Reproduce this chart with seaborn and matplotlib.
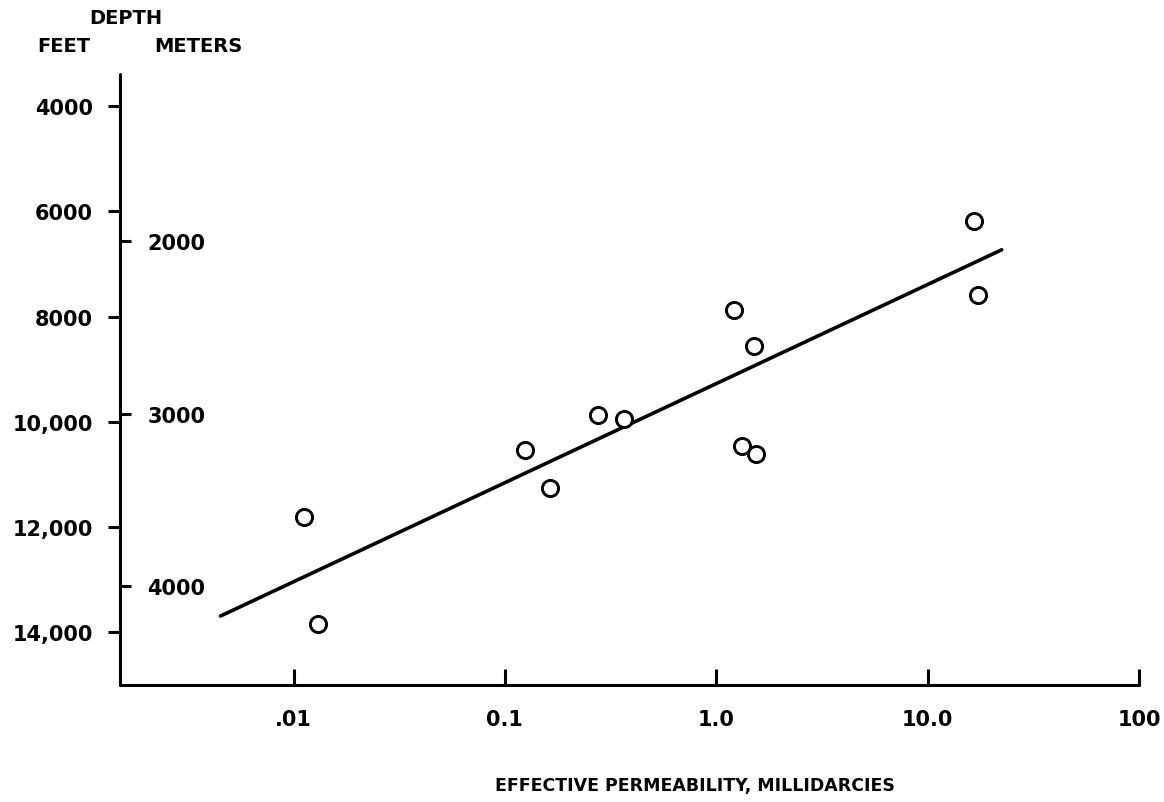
import numpy as np
import pandas as pd
import matplotlib
matplotlib.use("Agg")
import matplotlib.pyplot as plt
import seaborn as sns

# ---- data ----
permeability_md = [0.0112, 0.0131, 0.125, 0.163, 0.275, 0.365, 1.21, 1.51, 1.33, 1.55, 16.6, 17.4]
depth_ft = [11800, 13835, 10534, 11249, 9875, 9951, 7878, 8568, 10458, 10616, 6192, 7593]
fit_permeability_md = [0.00451, 22.4]
fit_depth_ft = [13690, 6732]

x_ticks = [0.01, 0.1, 1, 10, 100]
x_tick_labels = [".01", "0.1", "1.0", "10.0", "100"]
feet_ticks = [4000, 6000, 8000, 10000, 12000, 14000]
feet_tick_labels = ["4000", "6000", "8000", "10,000", "12,000", "14,000"]
meter_ticks = [2000, 3000, 4000]
meter_tick_labels = ["2000", "3000", "4000"]

FT_TO_M = 0.3048

sns.set_style("white")
plt.rcParams["font.family"] = ["DejaVu Sans"]
plt.rcParams["font.weight"] = "bold"
plt.rcParams["text.color"] = "black"
plt.rcParams["axes.labelcolor"] = "black"

W, H = 1164, 803
fig = plt.figure(figsize=(W / 100, H / 100), dpi=100)
ax = fig.add_axes([120 / W, 1 - 686 / H, (1139 - 120) / W, (686 - 75) / H])

points = pd.DataFrame({"k": permeability_md, "depth": depth_ft})
fit = pd.DataFrame({"k": fit_permeability_md, "depth": fit_depth_ft})

sns.lineplot(data=fit, x="k", y="depth", ax=ax, color="black", linewidth=2.6,
             estimator=None, sort=False)
sns.scatterplot(data=points, x="k", y="depth", ax=ax, marker="o", s=135,
                color="white", edgecolor="black", linewidth=2.1, zorder=3)

ax.set_xscale("log")
ax.set_xlim(0.00151, 100)
ax.set_ylim(15000, 3392)

for side in ("top", "right"):
    ax.spines[side].set_visible(False)
for side in ("left", "bottom"):
    ax.spines[side].set_linewidth(2.2)
    ax.spines[side].set_color("black")
    ax.spines[side].set_capstyle("round")

# meters scale on the inner side of the depth axis
ax2 = ax.twinx()
lo, hi = ax.get_ylim()
ax2.set_ylim(lo * FT_TO_M, hi * FT_TO_M)
ax2.spines["right"].set_position(("axes", 0))
for side in ("top", "right", "left", "bottom"):
    ax2.spines[side].set_visible(False)
ax2.set_yticks(meter_ticks)
ax2.set_yticklabels(meter_tick_labels)
ax2.tick_params(axis="y", which="major", right=True, left=False,
                labelright=True, labelleft=False, direction="out",
                length=8, width=2.2, pad=11.5, labelsize=15, colors="black")
ax2.grid(False)

ax.set_xticks(x_ticks)
ax.set_xticklabels(x_tick_labels)
ax.xaxis.set_minor_locator(matplotlib.ticker.NullLocator())
ax.tick_params(axis="x", which="major", bottom=True, top=False, direction="in",
               length=11.5, width=2.2, pad=17, labelsize=15, colors="black")

ax.set_yticks(feet_ticks)
ax.set_yticklabels(feet_tick_labels)
ax.yaxis.set_minor_locator(matplotlib.ticker.NullLocator())
ax.tick_params(axis="y", which="major", left=True, right=False, direction="out",
               length=8.6, width=2.2, pad=10.8, labelsize=15, colors="black")
ax.grid(False)

ax.set_xlabel("EFFECTIVE PERMEABILITY, MILLIDARCIES", fontsize=12.5,
              fontweight="bold", color="black")
ax.xaxis.set_label_coords((695 - 120) / 1019, (686 - 777) / 611)
ax.set_ylabel("")

fig.text(126 / W, 1 - 18 / H, "DEPTH", ha="center", va="center",
         fontsize=14, fontweight="bold", color="black")
fig.text(64 / W, 1 - 47 / H, "FEET", ha="center", va="center",
         fontsize=14, fontweight="bold", color="black")
fig.text(198 / W, 1 - 47 / H, "METERS", ha="center", va="center",
         fontsize=14, fontweight="bold", color="black")

fig.savefig("out.png", dpi=100, facecolor="white")
